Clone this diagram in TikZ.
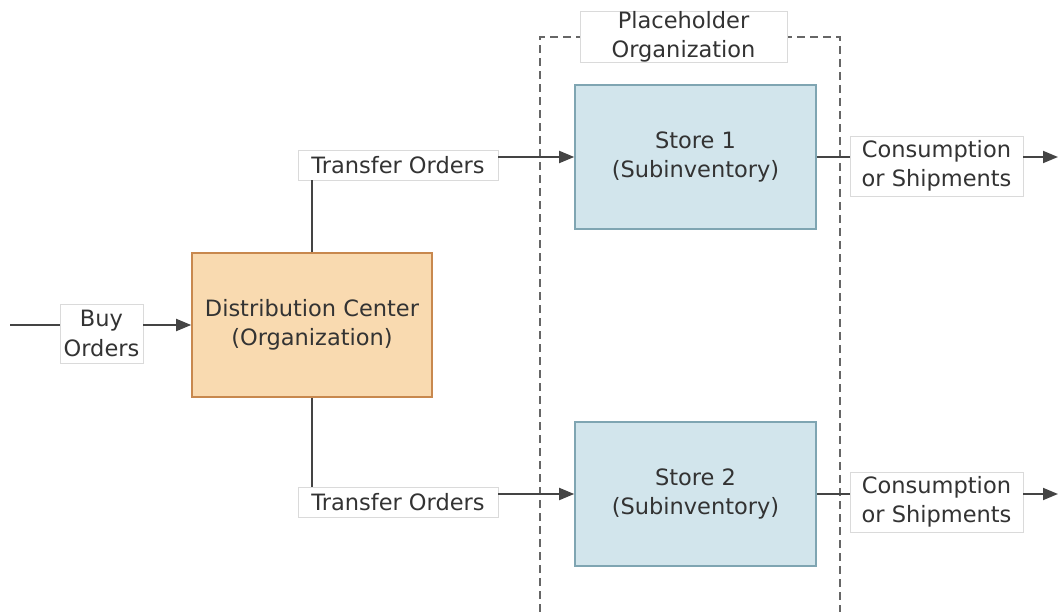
\documentclass[tikz,border=0pt]{standalone}
\usepackage{fontspec}
\setmainfont{DejaVu Sans}
\usetikzlibrary{arrows.meta}
\definecolor{txt}{HTML}{333333}
\definecolor{ln}{HTML}{444444}
\definecolor{dcfill}{HTML}{F9DAB0}
\definecolor{dcdraw}{HTML}{C8884E}
\definecolor{stfill}{HTML}{D2E5EC}
\definecolor{stdraw}{HTML}{7FA5B2}
\definecolor{lbdraw}{HTML}{DADADA}
\tikzset{
  every node/.style={font=\fontsize{22.5}{29.5}\selectfont, text=txt},
  box/.style={rectangle, line width=1.6pt, minimum width=240pt, minimum height=144pt, align=center, inner sep=0pt},
  dcbox/.style={box, fill=dcfill, draw=dcdraw},
  stbox/.style={box, fill=stfill, draw=stdraw},
  lbl/.style={rectangle, fill=white, draw=lbdraw, line width=0.8pt, align=center, inner sep=0pt},
  conn/.style={draw=ln, line width=1.8pt},
  arr/.style={conn, -{Triangle[length=15pt, width=12pt]}},
  grp/.style={draw=black!60, line width=1.3pt, dash pattern=on 8pt off 5pt},
}
\begin{document}
\begin{tikzpicture}[x=1pt, y=-1pt]
\useasboundingbox (0,0) rectangle (1058,612);
% group
\draw[grp] (540,612) -- (540,37) -- (840,37) -- (840,612);
\node[lbl, minimum width=207pt, minimum height=50pt] (ph) at (683.5,37) {Placeholder\\Organization};
% boxes
\node[dcbox] (dc) at (312,325) {Distribution Center\\(Organization)};
\node[stbox, minimum width=241pt] (s1) at (695.5,157) {Store 1\\(Subinventory)};
\node[stbox, minimum width=241pt] (s2) at (695.5,494) {Store 2\\(Subinventory)};
% labels
\node[lbl, minimum width=83pt, minimum height=59pt] (buy) at (101.5,333.5) {Buy\\Orders};
\node[lbl, minimum width=200pt, minimum height=30pt] (to1) at (398,165) {Transfer Orders};
\node[lbl, minimum width=200pt, minimum height=30pt] (to2) at (398,502) {Transfer Orders};
\node[lbl, minimum width=173pt, minimum height=60pt] (c1) at (936.5,166) {Consumption\\or Shipments};
\node[lbl, minimum width=173pt, minimum height=60pt] (c2) at (936.5,502) {Consumption\\or Shipments};
\coordinate (in) at (10,325);
\coordinate (out1) at (1058,157);
\coordinate (out2) at (1058,494);
% connectors
\draw[conn] (in) -- (in -| buy.west);
\draw[arr] (buy.east |- dc.west) -- (dc.west);
\draw[conn] (dc.north) -- (dc.north |- to1.south);
\draw[conn] (dc.south) -- (dc.south |- to2.north);
\draw[arr] (to1.east |- s1.west) -- (s1.west);
\draw[arr] (to2.east |- s2.west) -- (s2.west);
\draw[conn] (s1.east) -- (c1.west |- s1.east);
\draw[conn] (s2.east) -- (c2.west |- s2.east);
\draw[arr] (c1.east |- out1) -- (out1);
\draw[arr] (c2.east |- out2) -- (out2);
\end{tikzpicture}
\end{document}
